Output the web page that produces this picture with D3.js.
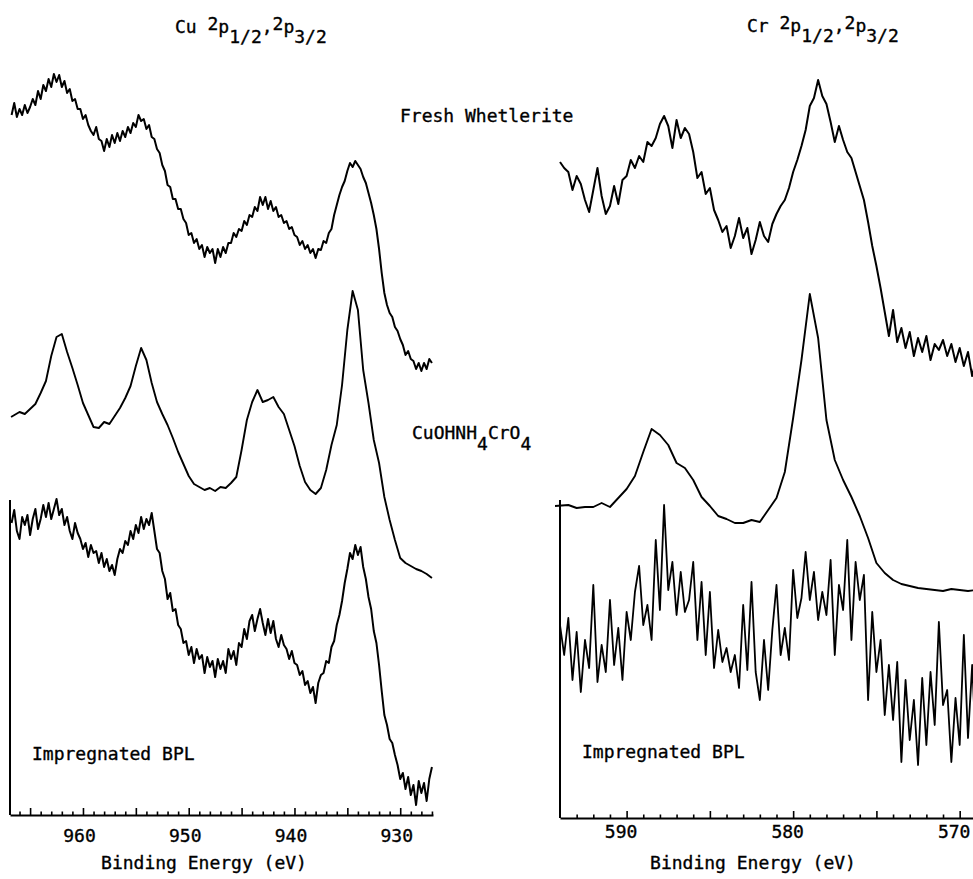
<!DOCTYPE html>
<html><head><meta charset="utf-8">
<script src="https://cdn.jsdelivr.net/npm/d3@7"></script>
<style>
body{margin:0;background:#fff}
text{font-family:"DejaVu Sans Mono","Liberation Mono",monospace;font-size:18px;fill:#000;stroke:#000;stroke-width:0.35px}
</style>
</head><body>
<svg id="chart" width="973" height="879"></svg>
<script>
// ---------- DATA (binding energy in eV, intensity in arbitrary counts) ----------
const cuEnergy = [966.8,966,965.5,965,964.5,964,963.5,963,962.5,962,961.5,961,960.5,960,959.5,959,958.5,958,957.5,957,956.5,956,955.5,955,954.5,954,953.5,953,952.5,952,951.5,951,950.5,950,949.5,949,948.5,948,947.5,947,946.5,946,945.5,945,944.5,944,943.5,943,942.5,942,941.5,941,940.5,940,939.5,939,938.5,938,937.5,937,936.5,936,935.5,935,934.5,934,933.5,933,932.5,932,931.5,931,930.5,930,929.5,929,928.5,928,927.5,927];
const cuEnergyFine = [966.75,966.5,966.25,966,965.75,965.5,965.25,965,964.75,964.5,964.25,964,963.75,963.5,963.25,963,962.75,962.5,962.25,962,961.75,961.5,961.25,961,960.75,960.5,960.25,960,959.75,959.5,959.25,959,958.75,958.5,958.25,958,957.75,957.5,957.25,957,956.75,956.5,956.25,956,955.75,955.5,955.25,955,954.75,954.5,954.25,954,953.75,953.5,953.25,953,952.75,952.5,952.25,952,951.75,951.5,951.25,951,950.75,950.5,950.25,950,949.75,949.5,949.25,949,948.75,948.5,948.25,948,947.75,947.5,947.25,947,946.75,946.5,946.25,946,945.75,945.5,945.25,945,944.75,944.5,944.25,944,943.75,943.5,943.25,943,942.75,942.5,942.25,942,941.75,941.5,941.25,941,940.75,940.5,940.25,940,939.75,939.5,939.25,939,938.75,938.5,938.25,938,937.75,937.5,937.25,937,936.75,936.5,936.25,936,935.75,935.5,935.25,935,934.75,934.5,934.25,934,933.75,933.5,933.25,933,932.75,932.5,932.25,932,931.75,931.5,931.25,931,930.75,930.5,930.25,930,929.75,929.5,929.25,929,928.75,928.5,928.25,928,927.75,927.5,927.25,927];
const cuFresh = [700,712,698,706,700,710,702,708,716,710,724,716,730,724,736,728,741,733,740,728,734,722,726,714,716,706,706,696,700,690,684,680,688,676,674,664,676,668,680,672,682,674,684,678,688,682,692,688,700,694,696,686,690,678,676,666,662,650,644,630,628,616,616,606,606,596,592,580,582,572,576,566,570,558,568,562,566,552,566,558,568,562,572,572,582,578,586,584,594,590,600,598,608,604,618,610,618,606,614,604,608,598,600,592,594,586,588,580,578,570,574,566,570,562,566,557,566,565,574,572,582,586,600,610,620,628,634,644,652,648,654,650,646,638,632,622,612,600,586,566,542,522,510,502,498,488,484,476,470,460,464,456,454,446,452,444,452,446,456,452];
const cuCuOH = [398,403,401,406,411,422,434,459,478,481,463,447,430,412,400,388,387,393,391,399,407,417,429,449,467,455,432,413,401,390,377,363,351,339,331,328,325,327,324,328,327,332,338,365,395,413,425,413,415,418,408,401,385,369,349,333,325,321,327,345,370,390,430,485,524,505,445,412,375,352,318,295,275,257,252,249,246,244,241,237];
const cuBPL = [292,305,284,276,298,290,300,280,296,306,286,296,310,298,312,296,306,316,300,306,290,298,284,276,292,282,276,266,272,258,270,262,264,252,262,248,256,244,250,240,256,266,262,274,270,284,276,290,282,298,286,296,290,302,284,266,262,244,236,216,222,204,206,190,186,172,174,160,168,152,166,156,160,142,158,148,154,138,156,146,154,142,166,156,164,150,172,168,186,176,194,200,184,196,206,192,180,196,182,194,176,168,180,170,166,156,164,152,150,140,144,130,134,122,128,112,132,140,142,154,152,168,174,190,200,214,232,246,262,256,270,260,268,248,236,218,206,184,172,150,124,100,90,76,72,60,50,36,42,26,38,20,30,10,34,22,32,14,36,48];

const crEnergy = [594.3,593.5,593,592.5,592,591.5,591,590.5,590,589.5,589,588.5,588,587.5,587,586.5,586,585.5,585,584.5,584,583.5,583,582.5,582,581.5,581,580.5,580,579.5,579,578.5,578,577.5,577,576.5,576,575.5,575,574.5,574,573.5,573,572.5,572,571.5,571,570.5,570,569.5,569];
const crEnergyFine = [594,593.75,593.5,593.25,593,592.75,592.5,592.25,592,591.75,591.5,591.25,591,590.75,590.5,590.25,590,589.75,589.5,589.25,589,588.75,588.5,588.25,588,587.75,587.5,587.25,587,586.75,586.5,586.25,586,585.75,585.5,585.25,585,584.75,584.5,584.25,584,583.75,583.5,583.25,583,582.75,582.5,582.25,582,581.75,581.5,581.25,581,580.75,580.5,580.25,580,579.75,579.5,579.25,579,578.75,578.5,578.25,578,577.75,577.5,577.25,577,576.75,576.5,576.25,576,575.75,575.5,575.25,575,574.75,574.5,574.25,574,573.75,573.5,573.25,573,572.75,572.5,572.25,572,571.75,571.5,571.25,571,570.75,570.5,570.25,570,569.75,569.5,569.25,569];
const crFresh = [656,650,646,628,642,634,618,606,628,650,622,604,612,632,614,638,642,658,650,662,656,676,672,680,694,702,692,670,698,680,690,684,666,640,646,624,630,608,598,586,592,570,582,600,580,590,564,578,596,582,576,594,604,612,618,630,646,658,672,688,712,720,738,722,714,696,676,692,678,666,660,646,632,618,596,572,552,530,506,482,508,476,490,470,486,462,480,466,482,458,474,468,478,462,474,456,470,452,466,442,460];
const crCuOH = [312,313,310,311,311,315,311,320,329,342,366,389,383,373,355,350,338,321,312,302,299,295,295,298,296,308,320,346,400,458,524,480,398,358,338,321,302,280,255,245,238,234,232,230,229,228,227,229,228,227,228];
const crBPL = [193,163,200,138,186,126,178,150,233,136,173,146,218,153,190,138,206,178,226,252,193,213,178,278,208,313,228,256,203,246,206,218,256,178,236,163,226,150,188,156,170,146,163,130,213,148,236,146,118,178,128,188,233,163,190,158,248,200,220,266,218,246,198,226,203,258,163,233,208,278,178,256,218,243,118,206,146,178,103,153,98,156,56,138,78,118,53,140,73,146,93,196,113,128,56,120,73,183,80,153,63];

const cuTickLabels = [960, 950, 940, 930];
const crTickLabels = [590, 580, 570];

// ---------- DRAWING ----------
const svg = d3.select("#chart");

function drawPanel(cfg) {
  const x = d3.scaleLinear().domain(cfg.xDomain).range(cfg.xRange);
  const y = d3.scaleLinear().domain([0, 800]).range([cfg.base, cfg.base - 800]);
  const g = svg.append("g");
  const line = d3.line().x(d => x(d[0])).y(d => y(d[1])).curve(d3.curveLinear);

  cfg.series.forEach(s => {
    g.append("path")
      .datum(d3.zip(s.energy, s.values))
      .attr("d", line)
      .attr("fill", "none")
      .attr("stroke", "#000")
      .attr("stroke-width", s.width)
      .attr("stroke-linejoin", "round");
  });

  // vertical left axis line
  g.append("line")
    .attr("x1", x(cfg.xDomain[0])).attr("x2", x(cfg.xDomain[0]))
    .attr("y1", y(cfg.axisTop)).attr("y2", y(0))
    .attr("stroke", "#000").attr("stroke-width", 2);

  // bottom axis with inward ticks
  const axis = d3.axisBottom(x)
    .tickValues(cfg.minorTicks)
    .tickSizeInner(-3.5)
    .tickSizeOuter(0)
    .tickPadding(0)
    .tickFormat(d => cfg.labels.includes(d) ? d : "");
  const ag = g.append("g").attr("transform", `translate(0,${cfg.base})`).call(axis);
  ag.select(".domain").attr("stroke", "#000").attr("stroke-width", 2.2);
  ag.selectAll(".tick line")
    .attr("stroke", "#000").attr("stroke-width", 1.6)
    .attr("y2", d => d % 5 === 0 ? -7 : -3.5);
  ag.selectAll(".tick text")
    .attr("y", cfg.labelY).attr("dy", 0).attr("dx", cfg.labelDx)
    .style("font-family", '"DejaVu Sans Mono",monospace')
    .style("font-size", "18px").attr("fill", "#000")
    .attr("stroke", "#000").attr("stroke-width", 0.35);

  // axis title
  svg.append("text").attr("x", cfg.titleX).attr("y", 869)
    .attr("text-anchor", "middle").text("Binding Energy (eV)");
}

drawPanel({
  xDomain: [966.9, 926.9], xRange: [10, 433], base: 815, axisTop: 315,
  minorTicks: d3.range(927, 967), labels: cuTickLabels, labelY: 27, labelDx: -4,
  titleX: 204,
  series: [
    {energy: cuEnergyFine, values: cuFresh, width: 2},
    {energy: cuEnergy, values: cuCuOH, width: 1.9},
    {energy: cuEnergyFine, values: cuBPL, width: 2}
  ]
});

drawPanel({
  xDomain: [594, 569.2], xRange: [560, 973], base: 818, axisTop: 318,
  minorTicks: d3.range(570, 594), labels: crTickLabels, labelY: 20, labelDx: -6,
  titleX: 753,
  series: [
    {energy: crEnergyFine, values: crFresh, width: 2},
    {energy: crEnergy, values: crCuOH, width: 1.9},
    {energy: crEnergyFine, values: crBPL, width: 1.8}
  ]
});

// ---------- LABELS ----------
function title(xp, yp, el) {
  const t = svg.append("text").attr("x", xp).attr("y", yp);
  t.append("tspan").text(el + " ");
  t.append("tspan").attr("dy", -3).text("2");
  t.append("tspan").attr("dy", 3).text("p");
  t.append("tspan").attr("dy", 10).text("1/2");
  t.append("tspan").attr("dy", -10).text(",");
  t.append("tspan").attr("dy", -3).text("2");
  t.append("tspan").attr("dy", 3).text("p");
  t.append("tspan").attr("dy", 10).text("3/2");
}
title(175, 33, "Cu");
title(747, 32, "Cr");

svg.append("text").attr("x", 400).attr("y", 122).text("Fresh Whetlerite");

const comp = svg.append("text").attr("x", 412).attr("y", 439);
comp.append("tspan").text("CuOHNH");
comp.append("tspan").attr("dy", 11).text("4");
comp.append("tspan").attr("dy", -11).text("CrO");
comp.append("tspan").attr("dy", 11).text("4");

svg.append("text").attr("x", 32).attr("y", 760).text("Impregnated BPL");
svg.append("text").attr("x", 582).attr("y", 758).text("Impregnated BPL");
</script>
</body></html>
